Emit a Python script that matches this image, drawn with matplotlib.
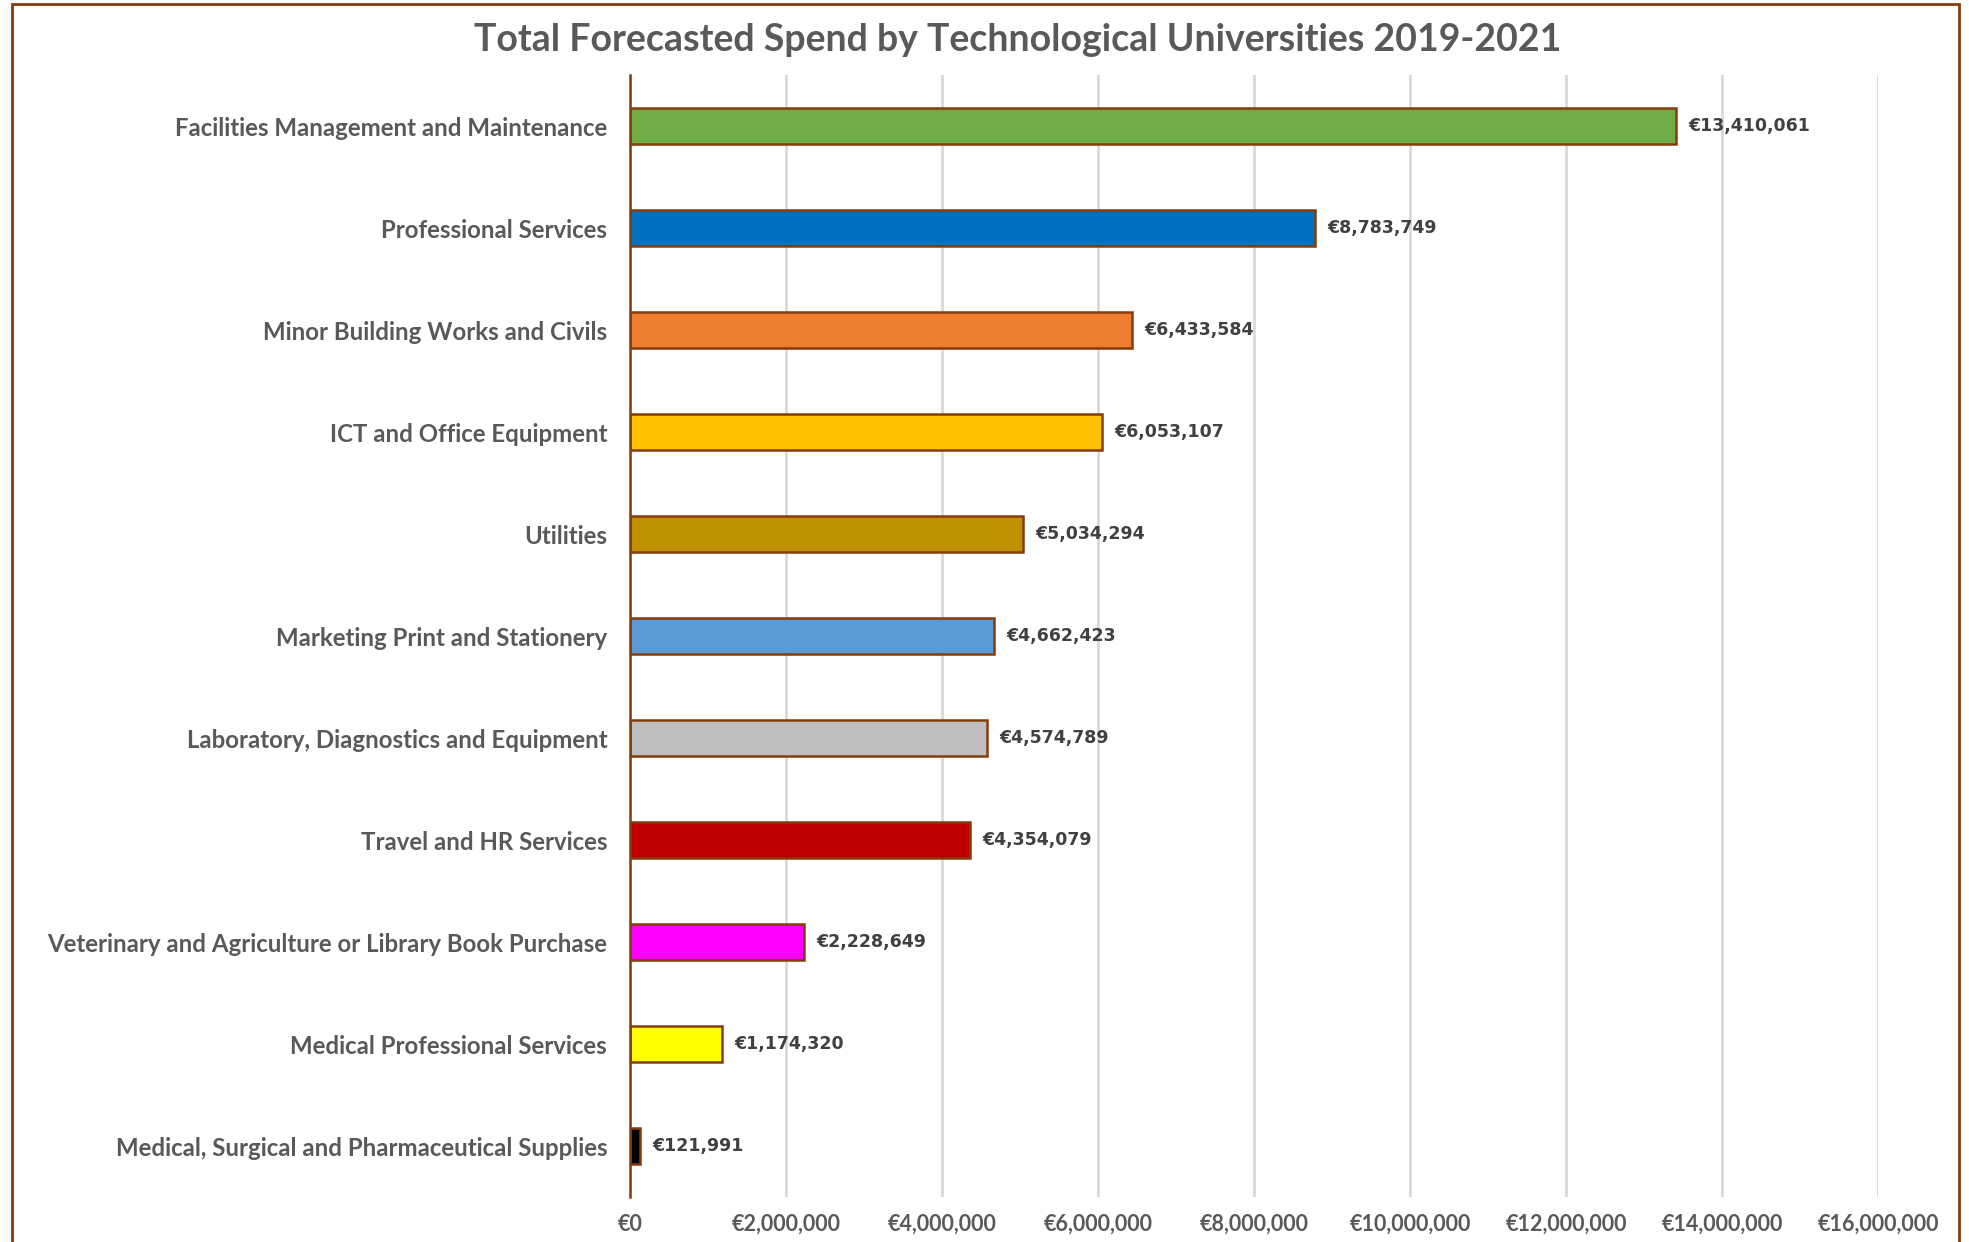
import matplotlib
matplotlib.use("Agg")
import matplotlib.pyplot as plt
from matplotlib.patches import Rectangle
from matplotlib.ticker import FuncFormatter, MultipleLocator

categories = [
    "Facilities Management and Maintenance",
    "Professional Services",
    "Minor Building Works and Civils",
    "ICT and Office Equipment",
    "Utilities",
    "Marketing Print and Stationery",
    "Laboratory, Diagnostics and Equipment",
    "Travel and HR Services",
    "Veterinary and Agriculture or Library Book Purchase",
    "Medical Professional Services",
    "Medical, Surgical and Pharmaceutical Supplies",
]
values = [13410061, 8783749, 6433584, 6053107, 5034294, 4662423,
          4574789, 4354079, 2228649, 1174320, 121991]
colors = ["#70AD47", "#0070C0", "#ED7D31", "#FFC000", "#BF9000", "#5B9BD5",
          "#BFBFBF", "#C00000", "#FF00FF", "#FFFF00", "#000000"]
title = "Total Forecasted Spend by Technological Universities 2019-2021"

BROWN = "#843C0C"
GRAY = "#595959"

fig = plt.figure(figsize=(19.69, 12.42), dpi=100)
ax = fig.add_axes([0.32, 0.0362, 0.6338, 0.9034])

y = list(range(len(categories)))
ax.barh(y, values, height=0.35, color=colors, edgecolor=BROWN, linewidth=1.8, zorder=3)
ax.set_ylim(len(categories) - 0.5, -0.5)
ax.set_xlim(0, 16000000)
ax.set_yticks(y)
ax.set_yticklabels(categories, fontfamily="Lato", fontweight="bold", fontsize=17.3, color=GRAY)
ax.tick_params(axis="y", length=0, pad=16.5)
ax.xaxis.set_major_locator(MultipleLocator(2000000))
ax.xaxis.set_major_formatter(FuncFormatter(lambda v, p: "€{:,.0f}".format(v)))
for lab in ax.get_xticklabels():
    lab.set_fontfamily("Lato")
    lab.set_fontweight("bold")
    lab.set_fontsize(15.5)
    lab.set_color(GRAY)
ax.tick_params(axis="x", length=0, pad=12)
ax.grid(axis="x", color="#D9D9D9", linewidth=2, zorder=0)
for s in ["top", "right", "bottom"]:
    ax.spines[s].set_visible(False)
ax.spines["left"].set_color(BROWN)
ax.spines["left"].set_linewidth(1.8)
ax.spines["left"].set_zorder(4)

for yi, v in zip(y, values):
    ax.annotate("€{:,.0f}".format(v), xy=(v, yi), xytext=(9, 0), textcoords="offset points",
                va="center", ha="left", fontfamily="DejaVu Sans", fontweight="bold",
                fontsize=12.5, color="#404040")

fig.text(0.517, 0.968, title, ha="center", va="center", fontfamily="Lato",
         fontweight="bold", fontsize=27, color=GRAY)

fig.patches.append(Rectangle((12 / 1969, -0.05), (1959 - 12) / 1969, 1 - 4 / 1242 + 0.05,
                             transform=fig.transFigure, fill=False, edgecolor=BROWN, linewidth=2))

fig.savefig("out.png", dpi=100)
